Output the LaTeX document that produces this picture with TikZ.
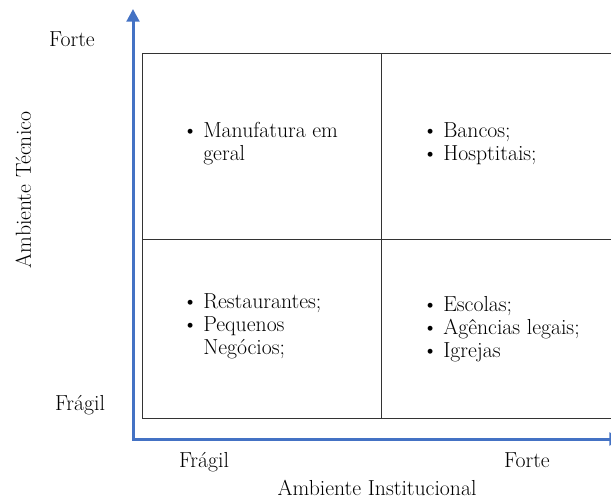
\documentclass[tikz,border=0pt]{standalone}
\usepackage{fontspec}
\usetikzlibrary{arrows.meta, positioning}

\definecolor{axisblue}{RGB}{68,114,196}

% bullet list used inside each quadrant
\newenvironment{quadlist}{\begin{tabular}[t]{@{}p{15.75pt}@{}l@{}}}{\end{tabular}}
\newcommand{\qbullet}{\textbullet}

\begin{document}
\begin{tikzpicture}[
    x=0.75pt, y=-0.75pt,
    % --- Text styles ---
    lbl/.style = {inner sep=0pt, font=\fontsize{16.3}{17.25}\selectfont},
    items/.style = {lbl, anchor=base west},
    % --- Line styles ---
    axis/.style = {line width=2.25pt, draw=axisblue, line join=miter,
        {Triangle[length=9.5pt, width=9.5pt]}-{Triangle[length=9.5pt, width=9.5pt]}},
    grid/.style = {draw=black!80, line width=0.75pt}
]

\useasboundingbox (0,0) rectangle (611,500);

% ==================== FRAME ====================
\coordinate (tl) at (142,53);
\coordinate (br) at (616,418);
\coordinate (mt) at (381,53);
\coordinate (mb) at (381,418);
\coordinate (ml) at (142,239);
\coordinate (mr) at (616,239);

\draw[grid] (tl) rectangle (br);
\draw[grid] (mt) -- (mb);
\draw[grid] (ml) -- (mr);

% ==================== AXES ====================
\coordinate (ytip) at (133,9);
\coordinate (xtip) at (622,439);

\draw[axis] (ytip) |- (xtip);

% ==================== AXIS LABELS ====================
\node[lbl, anchor=base] (yhigh) at (72,46) {Forte};
\node[lbl, anchor=base] (ylow) at (80,410) {Frágil};
\node[lbl, anchor=base] (xlow) at (204,467) {Frágil};
\node[lbl, anchor=base] (xhigh) at (527,467) {Forte};
\node[lbl, anchor=base] (xtitle) at (377,495) {Ambiente Institucional};
\node[lbl, anchor=base, rotate=90] (ytitle) at (31,190) {Ambiente Técnico};

% ==================== QUADRANTS ====================
\node[items] (q1) at (182,137) {\begin{quadlist}
    \qbullet & Manufatura em\\
             & geral
\end{quadlist}};

\node[items] (q2) at (422,137) {\begin{quadlist}
    \qbullet & Bancos;\\
    \qbullet & Hosptitais;
\end{quadlist}};

\node[items] (q3) at (182,308) {\begin{quadlist}
    \qbullet & Restaurantes;\\
    \qbullet & Pequenos\\
             & Negócios;
\end{quadlist}};

\node[items] (q4) at (422,311) {\begin{quadlist}
    \qbullet & Escolas;\\
    \qbullet & Agências legais;\\
    \qbullet & Igrejas
\end{quadlist}};

\end{tikzpicture}
\end{document}
